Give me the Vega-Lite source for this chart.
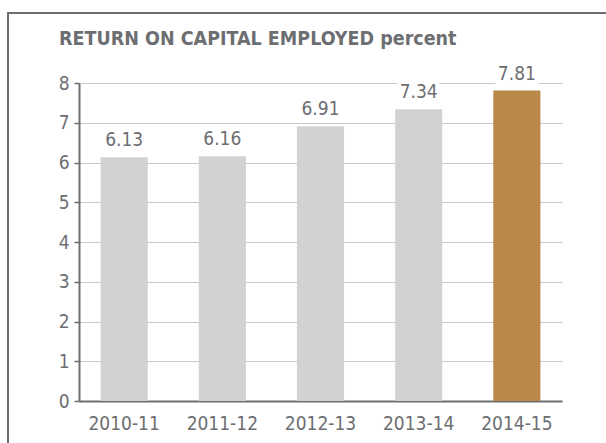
{
  "$schema": "https://vega.github.io/schema/vega-lite/v6.json",
  "autosize": {"type": "none"},
  "width": 600,
  "height": 432,
  "padding": {"left": 8, "top": 13, "right": -2, "bottom": -2},
  "background": "white",
  "config": {
    "view": {"stroke": "#6d6e71", "strokeWidth": 2},
    "font": "DejaVu Sans Condensed"
  },
  "title": {
    "text": "RETURN ON CAPITAL EMPLOYED percent",
    "font": "DejaVu Sans Condensed",
    "fontWeight": "bold",
    "fontSize": 19.5,
    "color": "#6d6e71",
    "anchor": "start",
    "frame": "group",
    "baseline": "alphabetic",
    "offset": 0,
    "dx": 51,
    "dy": 51
  },
  "data": {
    "values": [
      {"year": "2010-11", "roce": 6.13},
      {"year": "2011-12", "roce": 6.16},
      {"year": "2012-13", "roce": 6.91},
      {"year": "2013-14", "roce": 7.34},
      {"year": "2014-15", "roce": 7.81}
    ]
  },
  "encoding": {
    "x": {
      "field": "year",
      "type": "nominal",
      "sort": null,
      "scale": {"paddingInner": 0.52, "paddingOuter": 0.22, "range": [71, 554]},
      "axis": {
        "title": null,
        "labelAngle": 0,
        "labelFont": "DejaVu Sans Condensed",
        "labelFontSize": 19,
        "labelColor": "#6d6e71",
        "labelPadding": 13,
        "domainColor": "#6d6e71",
        "domainWidth": 2,
        "ticks": false,
        "offset": -44
      }
    },
    "y": {
      "field": "roce",
      "type": "quantitative",
      "scale": {"domain": [0, 8], "range": [388, 70], "nice": false, "zero": true},
      "axis": {
        "title": null,
        "values": [0, 1, 2, 3, 4, 5, 6, 7, 8],
        "labelFont": "DejaVu Sans Condensed",
        "labelFontSize": 19,
        "labelColor": "#6d6e71",
        "labelPadding": 5,
        "tickSize": 5,
        "tickColor": "#6d6e71",
        "tickWidth": 1.5,
        "domainColor": "#6d6e71",
        "domainWidth": 2,
        "grid": true,
        "gridColor": "#c8c9cb",
        "gridWidth": 1,
        "offset": -71
      }
    }
  },
  "layer": [
    {
      "mark": {"type": "bar"},
      "encoding": {
        "color": {
          "field": "year",
          "type": "nominal",
          "scale": {
            "domain": ["2010-11", "2011-12", "2012-13", "2013-14", "2014-15"],
            "range": ["#d1d2d4", "#d1d2d4", "#d1d2d4", "#d1d2d4", "#b9894a"]
          },
          "legend": null
        }
      }
    },
    {
      "mark": {
        "type": "text",
        "font": "DejaVu Sans Condensed",
        "fontSize": 19,
        "baseline": "alphabetic",
        "dy": -11,
        "fill": "white",
        "stroke": "white",
        "strokeWidth": 8
      },
      "encoding": {"text": {"field": "roce", "type": "quantitative", "format": ".2f"}}
    },
    {
      "mark": {
        "type": "text",
        "font": "DejaVu Sans Condensed",
        "fontSize": 19,
        "baseline": "alphabetic",
        "dy": -11,
        "color": "#6d6e71"
      },
      "encoding": {"text": {"field": "roce", "type": "quantitative", "format": ".2f"}}
    }
  ]
}
